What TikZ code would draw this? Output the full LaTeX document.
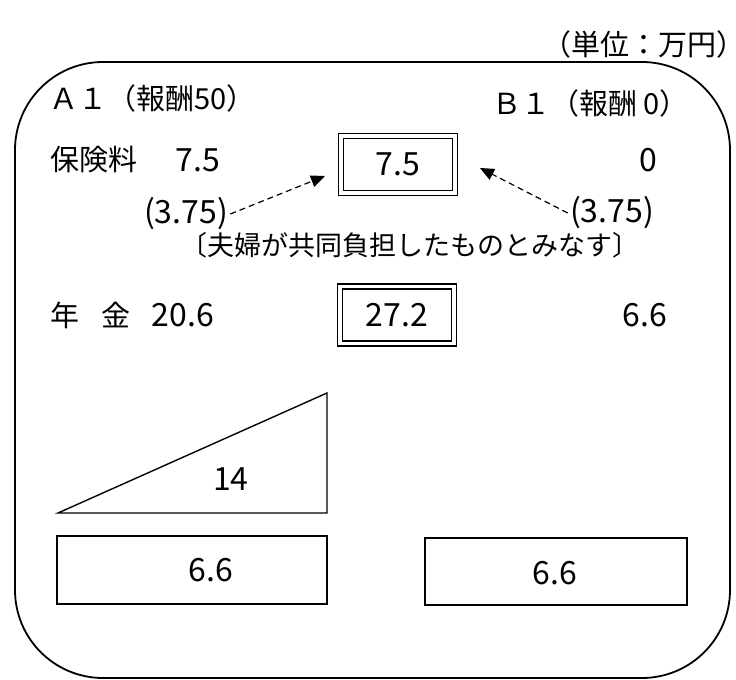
\documentclass[tikz,border=0pt]{standalone}
\usepackage{fontspec}
\setmainfont{Noto Sans CJK JP}
\usetikzlibrary{arrows.meta}
\begin{document}
\begin{tikzpicture}[x=0.5pt,y=-0.5pt,
  lbl/.style={inner sep=1pt,font=\fontsize{14.5}{16}\selectfont},
  num/.style={inner sep=1pt,font=\fontsize{16}{18}\selectfont},
  note/.style={inner sep=1pt,font=\fontsize{13.5}{15}\selectfont},
  dblbox/.style={draw,double,line width=0.8pt,double distance=1.7pt,minimum width=57pt,minimum height=28.5pt,inner sep=0pt,font=\fontsize{16}{18}\selectfont},
  valbox/.style={draw,line width=0.7pt,inner sep=0pt},
  dasharr/.style={dashed,dash pattern=on 3pt off 2pt,line width=0.6pt,-{Triangle[length=7pt,width=6pt]}}]
\useasboundingbox (0,0) rectangle (736,680);
\draw[line width=0.9pt,rounded corners=44pt] (15,62) rectangle (730,678);
\node[lbl,anchor=west] (unit) at (540,44) {（単位：万円）};
\node[lbl,anchor=west] (aone) at (47,98) {Ａ１（報酬50）};
\node[lbl,anchor=west] (bone) at (490,103) {Ｂ１（報酬 0）};
% premium row
\node[lbl,anchor=west] (prem) at (48,160) {保険料};
\node[num] (apre) at (198,160) {7.5};
\node[dblbox] (sum1) at (398,164.5) {7.5};
\node[num] (bpre) at (648,160) {0};
\node[num] (lhalf) at (186,214) {(3.75)};
\node[num] (rhalf) at (612,213) {(3.75)};
\coordinate (ltip) at (325,176);
\coordinate (rtip) at (480,168);
\draw[dasharr] (lhalf.east) -- (ltip);
\draw[dasharr] (rhalf.west) -- (rtip);
\node[note] (share) at (410,245) {〔夫婦が共同負担したものとみなす〕};
% pension row
\node[lbl,anchor=west] (pens) at (48,315) {年\hspace{0.75em}金};
\node[num] (apen) at (183,315) {20.6};
\node[dblbox] (sum2) at (397,315) {27.2};
\node[num] (bpen) at (645,315) {6.6};
% split
\draw[line width=0.7pt] (58,513) -- (327,393) -- (327,513) -- cycle;
\node[num] (tri) at (231,479) {14};
\node[valbox,minimum width=135pt,minimum height=34pt] (lbox) at (192,570) {};
\node[num] (lval) at (211,570) {6.6};
\node[valbox,minimum width=131pt,minimum height=33.5pt] (rbox) at (556,571.5) {};
\node[num] (rval) at (555,573) {6.6};

\end{tikzpicture}
\end{document}
